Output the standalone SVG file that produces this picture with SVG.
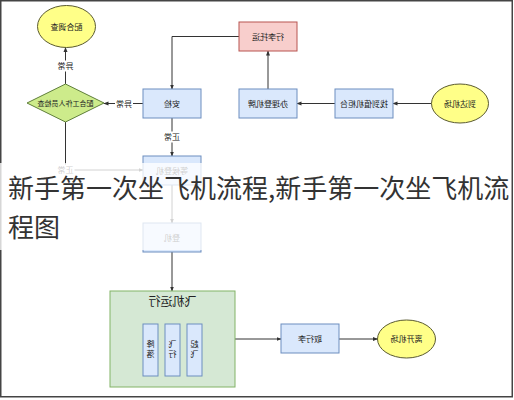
<svg xmlns="http://www.w3.org/2000/svg" width="514" height="400" viewBox="0 0 514 400">
<style>
.box{fill:#dae8fc;stroke:#6c8ebf;stroke-width:1}
.pink{fill:#f8cecc;stroke:#b85450;stroke-width:1}
.yel{fill:#ffff88;stroke:#5a5a30;stroke-width:1}
.dia{fill:#cdeb8b;stroke:#5f7f3a;stroke-width:1}
.grp{fill:#d5e8d4;stroke:#82b366;stroke-width:1}
.t{font-family:"Noto Sans CJK SC","Noto Sans",sans-serif;font-size:8px;fill:#222;text-anchor:middle}
.lbl{font-family:"Noto Sans CJK SC","Noto Sans",sans-serif;font-size:8px;fill:#222;text-anchor:middle}
.lb{fill:#fff}
.c{fill:none;stroke:#333;stroke-width:1}
.title{font-family:"Noto Sans CJK SC","Noto Sans",sans-serif;font-size:26px;fill:#333}
</style>
<defs>
<marker id="ah" viewBox="0 0 10 10" refX="9" refY="5" markerWidth="5" markerHeight="5" orient="auto">
<path d="M0,1 L10,5 L0,9 Z" fill="#333"/>
</marker>
</defs>
<rect x="0" y="0" width="514" height="400" fill="#fff"/>
<rect x="0.75" y="0.75" width="511.5" height="396" fill="#fff" stroke="#444" stroke-width="1.5"/>
<g transform="matrix(-1 0 0 1 514 0)">
<g id="connectors">
<line class="c" x1="82.5" y1="103.5" x2="121" y2="103.5" marker-end="url(#ah)"/>
<line class="c" x1="179" y1="103.5" x2="217" y2="103.5" marker-end="url(#ah)"/>
<line class="c" x1="246" y1="89" x2="246" y2="51" marker-end="url(#ah)"/>
<polyline class="c" points="275,36.5 342,36.5 342,89" marker-end="url(#ah)"/>
<line class="c" x1="371" y1="103.5" x2="410" y2="103.5" marker-end="url(#ah)"/>
<line class="c" x1="448.5" y1="84" x2="448.5" y2="47.5" marker-end="url(#ah)"/>
<line class="c" x1="342" y1="118" x2="342" y2="156" marker-end="url(#ah)"/>
<polyline class="c" points="448.5,122 448.5,170 371,170" marker-end="url(#ah)"/>
<line class="c" x1="342" y1="185" x2="342" y2="223" marker-end="url(#ah)"/>
<line class="c" x1="342" y1="252" x2="342" y2="291" marker-end="url(#ah)"/>
<line class="c" x1="279" y1="339" x2="233" y2="339" marker-end="url(#ah)"/>
<line class="c" x1="175" y1="339" x2="136.5" y2="339" marker-end="url(#ah)"/>
<rect class="lb" x="381" y="98" width="18" height="11"/>
<text class="lbl" x="390" y="106.5">异常</text>
<rect class="lb" x="439.5" y="60.5" width="18" height="11"/>
<text class="lbl" x="448.5" y="69">异常</text>
<rect class="lb" x="333" y="131.5" width="18" height="11"/>
<text class="lbl" x="342" y="140">正常</text>
<rect class="lb" x="439.5" y="164.5" width="18" height="11"/>
<text class="lbl" x="448.5" y="173">正常</text>
</g>
<g id="n-arrive"><ellipse class="yel" cx="54" cy="103.5" rx="28.5" ry="19.5"/><text class="t" x="54" y="106.5">到达机场</text></g>
<g id="n-counter"><rect class="box" x="121" y="89" width="58" height="29"/><text class="t" x="150" y="106.5">找到值机柜台</text></g>
<g id="n-board-pass"><rect class="box" x="217" y="89" width="58" height="29"/><text class="t" x="246" y="106.5">办理登机牌</text></g>
<g id="n-baggage"><rect class="pink" x="217" y="22" width="58" height="29"/><text class="t" x="246" y="39.5">行李托运</text></g>
<g id="n-security"><rect class="box" x="313" y="89" width="58" height="29"/><text class="t" x="342" y="106.5">安检</text></g>
<g id="n-check"><polygon class="dia" points="410,103 448.5,84 487,103 448.5,122"/><text class="t" x="448.5" y="105.5" style="font-size:7px">配合工作人员检查</text></g>
<g id="n-investigate"><ellipse class="yel" cx="447.5" cy="26.5" rx="29" ry="21"/><text class="t" x="447.5" y="29.5">配合调查</text></g>
<g id="n-wait"><rect class="box" x="313" y="156" width="58" height="29"/><text class="t" x="342" y="173.5">等候登机</text></g>
<g id="n-board"><rect class="box" x="313" y="223" width="58" height="29"/><text class="t" x="342" y="240.5">登机</text></g>
<g id="n-flight">
<rect class="grp" x="279" y="291" width="125" height="96"/>
<text class="t" x="341.5" y="306" style="font-size:12px">飞机运行</text>
<rect class="box" x="312" y="324" width="15" height="52"/>
<text class="t" x="319.5" y="347">起</text><text class="t" x="319.5" y="357">飞</text>
<rect class="box" x="334" y="324" width="15" height="52"/>
<text class="t" x="341.5" y="347">飞</text><text class="t" x="341.5" y="357">行</text>
<rect class="box" x="356" y="324" width="15" height="52"/>
<text class="t" x="363.5" y="347">降</text><text class="t" x="363.5" y="357">落</text>
</g>
<g id="n-luggage"><rect class="box" x="175" y="324" width="58" height="29"/><text class="t" x="204" y="341.5">取行李</text></g>
<g id="n-leave"><ellipse class="yel" cx="107.5" cy="339" rx="29" ry="19"/><text class="t" x="107.5" y="342">离开机场</text></g>
</g>
<rect x="0" y="163" width="510" height="87" fill="#fff" fill-opacity="0.78"/>
<text class="title" x="8" y="198">新手第一次坐飞机流程,新手第一次坐飞机流</text>
<text class="title" x="8" y="237">程图</text>
</svg>
